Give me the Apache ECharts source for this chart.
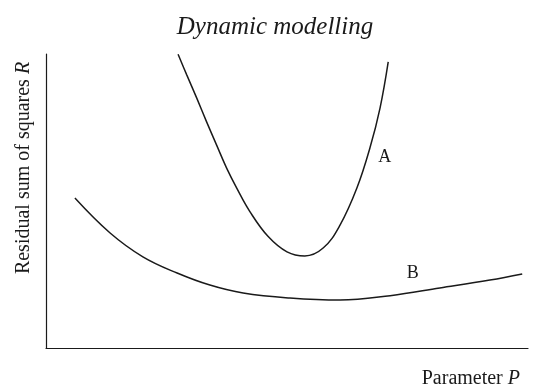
<!DOCTYPE html>
<html>
<head>
<meta charset="utf-8">
<script src="https://cdn.jsdelivr.net/npm/echarts@6/dist/echarts.min.js"></script>
<style>
  html, body { margin: 0; padding: 0; background: #fff; }
  #chart { width: 535px; height: 391px; }
</style>
</head>
<body>
<div id="chart"></div>
<script>
// values, in a 0..100 frame on both axes
const curveA = [
  [27.4, 99.9], [29.2, 92.9], [31.3, 84.9], [33.3, 77.0], [35.4, 69.0],
  [37.5, 61.1], [39.6, 54.3], [42.3, 46.4], [46.1, 37.9], [50.0, 32.7],
  [53.7, 31.3], [57.5, 34.0], [61.0, 41.8], [64.5, 54.4], [67.2, 68.0],
  [69.3, 81.6], [71.0, 97.3]
]
const curveB = [
  [6.0, 51.0], [13.3, 39.1], [20.1, 31.0], [27.2, 25.5], [34.0, 21.4],
  [40.9, 18.7], [50.6, 17.0], [61.0, 16.3], [71.4, 17.8], [81.7, 20.4],
  [92.1, 23.1], [98.8, 25.2]
]
const curveNames = ['A', 'B']
const labelCoords = [[70.3, 65.0], [76.1, 25.5]]

const serif = "'Liberation Serif', 'Times New Roman', serif"
const ink = '#1a1a1a'

const chart = echarts.init(document.getElementById('chart'))

function curve(name, data, coord) {
  return {
    name: name,
    type: 'line',
    smooth: 0.4,
    symbol: 'none',
    lineStyle: { color: ink, width: 1.5 },
    data: data,
    markPoint: {
      symbolSize: 0,
      data: [{ coord: coord }],
      label: {
        show: true,
        formatter: name,
        color: ink,
        fontFamily: serif,
        fontSize: 18
      }
    }
  }
}

const italic = { fontStyle: 'italic', fontFamily: serif, fontSize: 20, color: ink }

chart.setOption({
  animation: false,
  title: [
    {
      text: 'Dynamic modelling',
      left: 270,
      top: 10,
      textAlign: 'center',
      textStyle: { fontFamily: serif, fontStyle: 'italic', fontWeight: 'normal', fontSize: 25, color: ink }
    },
    {
      text: 'Parameter {i|P}',
      right: 10,
      top: 364,
      textStyle: {
        fontFamily: serif, fontWeight: 'normal', fontSize: 20, color: ink,
        rich: { i: italic }
      }
    }
  ],
  grid: { left: 46, right: 7, top: 54, bottom: 43, outerBoundsMode: 'none' },
  xAxis: {
    type: 'value',
    min: 0,
    max: 100,
    axisLine: { lineStyle: { color: ink, width: 1.2 } },
    axisTick: { show: false },
    axisLabel: { show: false },
    splitLine: { show: false }
  },
  yAxis: {
    type: 'value',
    min: 0,
    max: 100,
    name: 'Residual sum of squares {i|R}',
    nameLocation: 'middle',
    nameRotate: 90,
    nameGap: 12,
    nameTextStyle: {
      fontFamily: serif, fontSize: 20, color: ink,
      padding: [0, 0, 0, 66],
      rich: { i: italic }
    },
    axisLine: { show: true, lineStyle: { color: ink, width: 1.2 } },
    axisTick: { show: false },
    axisLabel: { show: false },
    splitLine: { show: false }
  },
  series: [
    curve(curveNames[0], curveA, labelCoords[0]),
    curve(curveNames[1], curveB, labelCoords[1])
  ]
})
</script>
</body>
</html>
